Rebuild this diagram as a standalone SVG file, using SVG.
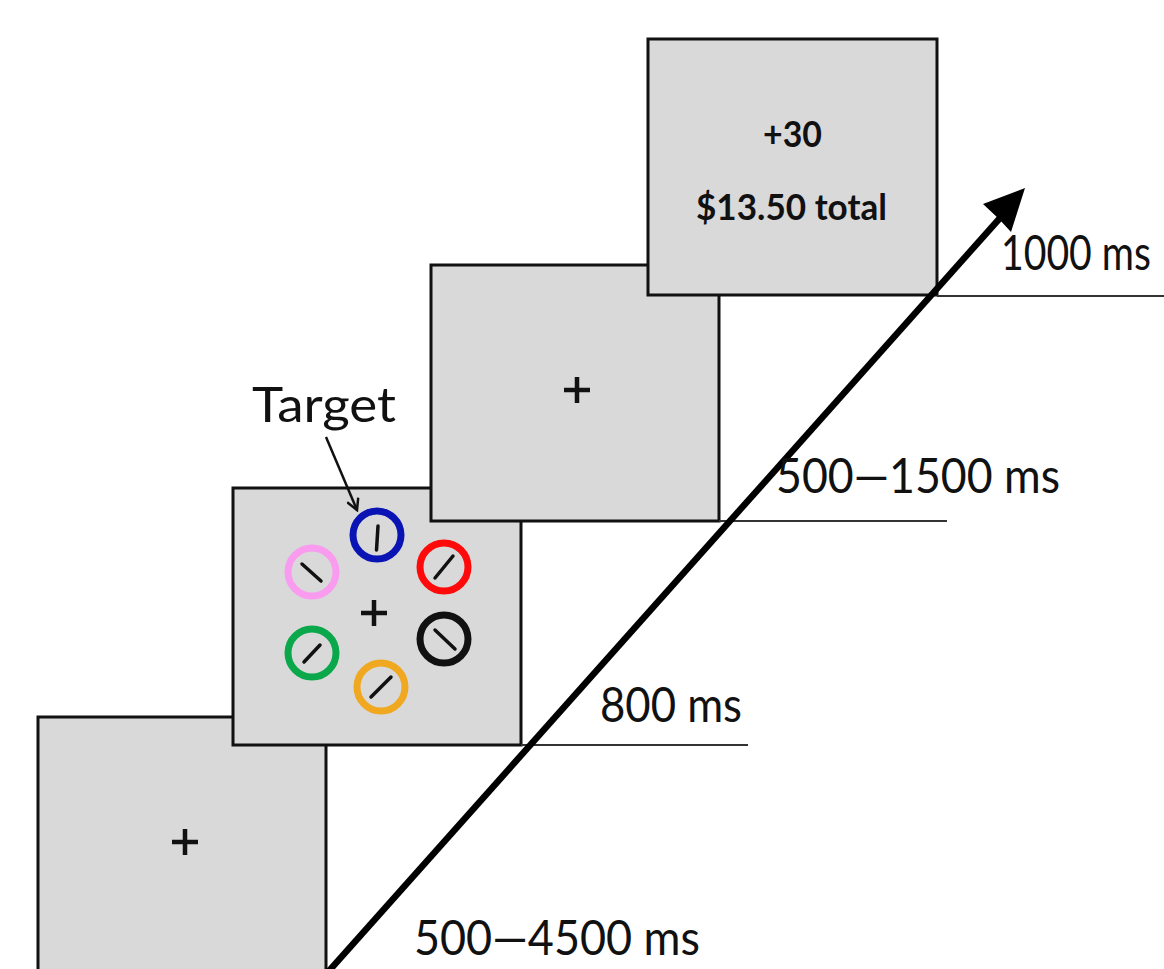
<svg xmlns="http://www.w3.org/2000/svg" width="1164" height="969" viewBox="0 0 1164 969">
<style>
.screen{fill:#d9d9d9;stroke:#111;stroke-width:3}
.base{stroke:#333;stroke-width:2}
.lbl{font-family:Lato,"Open Sans",sans-serif;font-size:48px;fill:#111}
.bold{font-family:Lato,"Open Sans",sans-serif;font-weight:bold;fill:#111}
.fix{stroke:#111;stroke-width:4.5}
.ring{fill:none;stroke-width:7}
.bar{stroke:#111;stroke-width:3.5;stroke-linecap:round}
</style>
<defs>
<marker id="openhead" markerWidth="14" markerHeight="14" refX="12" refY="7" orient="auto" markerUnits="userSpaceOnUse">
<path d="M1,1 L12,7 L1,13" fill="none" stroke="#111" stroke-width="2.5"/>
</marker>
</defs>
<rect width="1164" height="969" fill="#fff"/>
<g id="screen1">
<rect class="screen" x="38" y="717" width="288" height="270"/>
<path class="fix" d="M172,842 H198 M185,829 V855"/>
</g>
<g id="screen2">
<rect class="screen" x="233" y="488" width="288" height="257"/>
<path class="fix" d="M361,613 H387 M374,600 V626"/>
<g id="stim-blue"><circle class="ring" cx="377" cy="535" r="24" stroke="#0a14b4"/><line class="bar" x1="378" y1="526" x2="376.5" y2="550"/></g>
<g id="stim-red"><circle class="ring" cx="444" cy="567" r="24" stroke="#ff0a0a"/><line class="bar" x1="453" y1="556" x2="435" y2="578"/></g>
<g id="stim-pink"><circle class="ring" cx="312" cy="572" r="24" stroke="#f99cf0"/><line class="bar" x1="302" y1="564" x2="321" y2="581"/></g>
<g id="stim-black"><circle class="ring" cx="444" cy="639" r="24" stroke="#111"/><line class="bar" x1="435" y1="630" x2="455" y2="649"/></g>
<g id="stim-green"><circle class="ring" cx="312" cy="653" r="24" stroke="#0aa84a"/><line class="bar" x1="320" y1="645" x2="304" y2="662"/></g>
<g id="stim-orange"><circle class="ring" cx="381" cy="687" r="24" stroke="#f0a820"/><line class="bar" x1="391" y1="677" x2="371" y2="697"/></g>
</g>
<g id="screen3">
<rect class="screen" x="431" y="265" width="288" height="256"/>
<path class="fix" d="M564,390 H590 M577,377 V403"/>
</g>
<g id="screen4">
<rect class="screen" x="648" y="39" width="289" height="256"/>
<text class="bold" x="792.5" y="147" font-size="36" text-anchor="middle" textLength="59" lengthAdjust="spacingAndGlyphs">+30</text>
<text class="bold" x="791.5" y="220" font-size="37" text-anchor="middle" textLength="191" lengthAdjust="spacingAndGlyphs">$13.50 total</text>
</g>
<g id="connectors">
<line class="base" x1="521" y1="745" x2="748" y2="745"/>
<line class="base" x1="719" y1="521" x2="947" y2="521"/>
<line class="base" x1="937" y1="296" x2="1164" y2="296"/>
<line x1="328" y1="972" x2="1000" y2="218" stroke="#000" stroke-width="6.5"/>
<path d="M1025,188 L983,204 L999,219 L1011,232 Z" fill="#000"/>
<line x1="326" y1="437" x2="357" y2="510" stroke="#111" stroke-width="2.5" marker-end="url(#openhead)"/>
</g>
<g id="labels">
<text class="lbl" x="252" y="422" font-size="54" textLength="144" lengthAdjust="spacingAndGlyphs">Target</text>
<text class="lbl" x="1001" y="270" font-size="40" textLength="150" lengthAdjust="spacingAndGlyphs">1000 ms</text>
<text class="lbl" x="776" y="493" textLength="284" lengthAdjust="spacingAndGlyphs">500—1500 ms</text>
<text class="lbl" x="600" y="722" textLength="142" lengthAdjust="spacingAndGlyphs">800 ms</text>
<text class="lbl" x="414" y="955" textLength="286" lengthAdjust="spacingAndGlyphs">500—4500 ms</text>
</g>
</svg>
